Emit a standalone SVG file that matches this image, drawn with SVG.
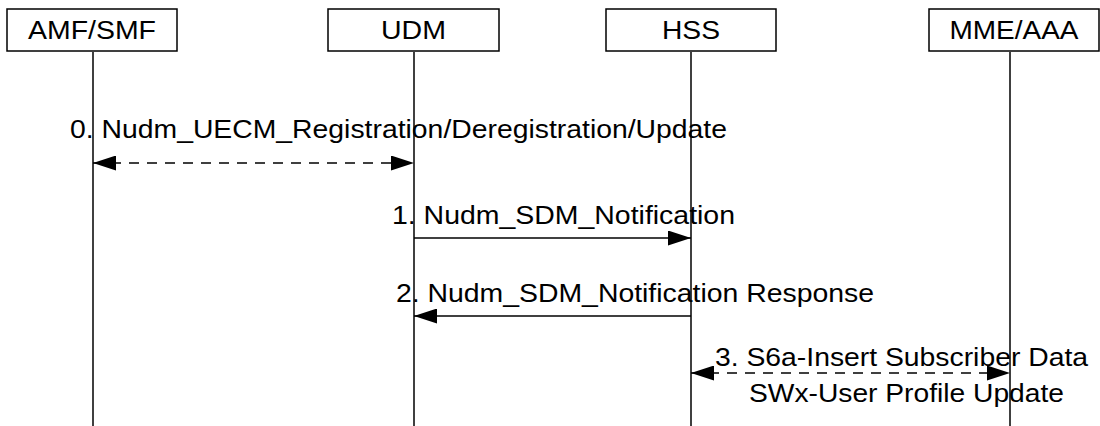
<svg xmlns="http://www.w3.org/2000/svg" width="1100" height="426" viewBox="0 0 1100 426">
  <style>
    .box { fill: #ffffff; stroke: #000000; stroke-width: 1.5; }
    .life { stroke: #000000; stroke-width: 1.5; fill: none; }
    .msg { stroke: #000000; stroke-width: 1.5; fill: none; }
    .dash { stroke-dasharray: 10 8; }
    text { font-family: "Liberation Sans", Arial, sans-serif; font-size: 25px; fill: #000000; }
    .c { text-anchor: middle; }
  </style>
  <defs>
    <marker id="arr" markerUnits="userSpaceOnUse" markerWidth="23" markerHeight="15" refX="23" refY="7.5" orient="auto-start-reverse" viewBox="0 0 23 15">
      <path d="M0,0 L23,7.5 L0,15 Z" fill="#000000" stroke="none"/>
    </marker>
  </defs>
  <rect width="1100" height="426" fill="#ffffff"/>

  <g id="lifelines">
    <line class="life" x1="93" y1="52" x2="93" y2="426"/>
    <line class="life" x1="414" y1="52" x2="414" y2="426"/>
    <line class="life" x1="691" y1="52" x2="691" y2="426"/>
    <line class="life" x1="1010" y1="52" x2="1010" y2="426"/>
  </g>

  <g id="node-amf-smf">
    <rect class="box" x="7" y="9" width="170" height="42"/>
    <text class="c" x="92" y="39" textLength="128" lengthAdjust="spacingAndGlyphs">AMF/SMF</text>
  </g>
  <g id="node-udm">
    <rect class="box" x="328" y="9" width="171" height="42"/>
    <text class="c" x="413.5" y="39" textLength="65" lengthAdjust="spacingAndGlyphs">UDM</text>
  </g>
  <g id="node-hss">
    <rect class="box" x="606" y="9" width="170" height="42"/>
    <text class="c" x="691" y="39" textLength="58" lengthAdjust="spacingAndGlyphs">HSS</text>
  </g>
  <g id="node-mme-aaa">
    <rect class="box" x="929" y="9" width="170" height="42"/>
    <text class="c" x="1014" y="39" textLength="129" lengthAdjust="spacingAndGlyphs">MME/AAA</text>
  </g>

  <g id="connectors">
    <line class="msg dash" x1="93" y1="163" x2="414" y2="163" marker-start="url(#arr)" marker-end="url(#arr)"/>
    <line class="msg" x1="414" y1="238" x2="691" y2="238" marker-end="url(#arr)"/>
    <line class="msg" x1="691" y1="316" x2="414" y2="316" marker-end="url(#arr)"/>
    <line class="msg dash" x1="691" y1="373" x2="1010" y2="373" marker-start="url(#arr)" marker-end="url(#arr)"/>
  </g>

  <g id="labels">
    <text x="70" y="138" textLength="657" lengthAdjust="spacingAndGlyphs">0. Nudm_UECM_Registration/Deregistration/Update</text>
    <text x="392" y="224" textLength="343" lengthAdjust="spacingAndGlyphs">1. Nudm_SDM_Notification</text>
    <text x="396" y="302" textLength="478" lengthAdjust="spacingAndGlyphs">2. Nudm_SDM_Notification Response</text>
    <text x="715" y="366" textLength="373" lengthAdjust="spacingAndGlyphs">3. S6a-Insert Subscriber Data</text>
    <text x="749" y="402" textLength="315" lengthAdjust="spacingAndGlyphs">SWx-User Profile Update</text>
  </g>
</svg>
